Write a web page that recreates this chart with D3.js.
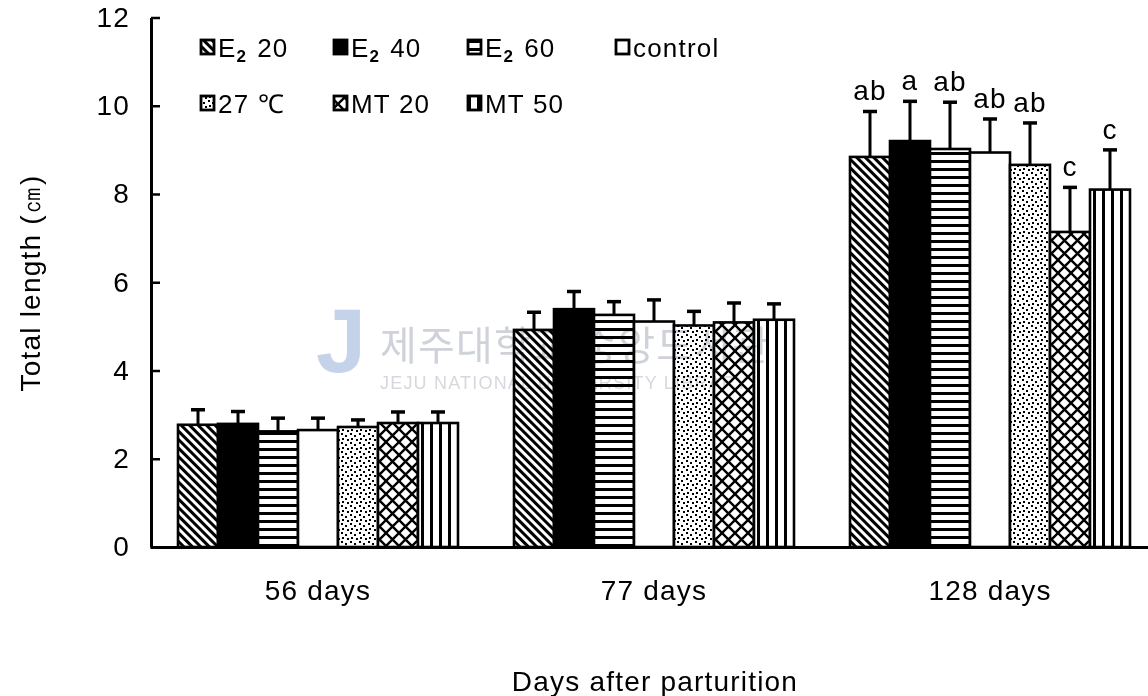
<!DOCTYPE html>
<html>
<head>
<meta charset="utf-8">
<script src="https://cdn.jsdelivr.net/npm/d3@7"></script>
<style>
  body { margin: 0; background: #fff; }
  svg text { font-family: "Liberation Sans", Arial, sans-serif; letter-spacing: 1.2px; }
</style>
</head>
<body>
<svg id="chart" width="1148" height="696"></svg>
<script>
// data
const groups = ["56 days", "77 days", "128 days"];
const treatments = ["E2 20", "E2 40", "E2 60", "control", "27 ℃", "MT 20", "MT 50"];
const mean56 = [2.77, 2.79, 2.62, 2.65, 2.72, 2.81, 2.81];
const sd56 = [0.34, 0.28, 0.30, 0.27, 0.16, 0.25, 0.25];
const mean77 = [4.92, 5.39, 5.26, 5.11, 5.02, 5.09, 5.15];
const sd77 = [0.40, 0.40, 0.30, 0.49, 0.32, 0.44, 0.36];
const mean128 = [8.84, 9.20, 9.02, 8.94, 8.66, 7.14, 8.10];
const sd128 = [1.03, 0.90, 1.06, 0.76, 0.95, 1.01, 0.90];
const letters128 = ["ab", "a", "ab", "ab", "ab", "c", "c"];
const yTicks = [0, 2, 4, 6, 8, 10, 12];

const means = [mean56, mean77, mean128];
const sds = [sd56, sd77, sd128];
const letters = [null, null, letters128];

const svg = d3.select("#chart");

const x0 = d3.scaleBand().domain(groups).range([150, 1158]).paddingInner(1 / 6).paddingOuter(1 / 12);
const x1 = d3.scaleBand().domain(treatments).range([0, x0.bandwidth()]);
const y = d3.scaleLinear().domain([0, 12]).range([547, 17.5]);

// fill patterns, one per treatment
const defs = svg.append("defs");
function makePattern(id, w, h, tf) {
  const p = defs.append("pattern").attr("id", id)
    .attr("patternUnits", "userSpaceOnUse")
    .attr("width", w).attr("height", h);
  if (tf) p.attr("patternTransform", tf);
  p.append("rect").attr("width", w).attr("height", h).attr("fill", "#fff");
  return p;
}
makePattern("p0", 6, 6, "rotate(-45)")
  .append("rect").attr("width", 3).attr("height", 6).attr("fill", "#000");
makePattern("p2", 8, 8)
  .append("rect").attr("width", 8).attr("height", 3).attr("fill", "#000");
const dots = makePattern("p4", 9, 9);
[[1, 1], [5, 3], [2, 6], [7, 7]].forEach(d => {
  dots.append("rect").attr("x", d[0]).attr("y", d[1]).attr("width", 2).attr("height", 2).attr("fill", "#000");
});
makePattern("p5", 13, 13)
  .append("path").attr("d", "M0,0L13,13M13,0L0,13").attr("stroke", "#000").attr("stroke-width", 2.4);
makePattern("p6", 9, 9)
  .append("rect").attr("width", 3).attr("height", 9).attr("fill", "#000");

const fills = ["url(#p0)", "#000", "url(#p2)", "#fff", "url(#p4)", "url(#p5)", "url(#p6)"];

// bars
groups.forEach((g, gi) => {
  const grp = svg.append("g").attr("transform", "translate(" + x0(g) + ",0)");
  const rows = treatments.map((t, i) => ({ t: t, i: i, v: means[gi][i], sd: sds[gi][i], lab: letters[gi] ? letters[gi][i] : null }));

  grp.selectAll("rect.bar")
    .data(rows)
    .enter()
    .append("rect")
    .attr("class", "bar")
    .attr("x", d => x1(d.t))
    .attr("y", d => y(d.v))
    .attr("width", x1.bandwidth())
    .attr("height", d => y(0) - y(d.v))
    .attr("fill", d => fills[d.i])
    .attr("stroke", "#000")
    .attr("stroke-width", 2.6);

  const eb = grp.selectAll("g.err").data(rows).enter().append("g").attr("class", "err");
  eb.append("line")
    .attr("x1", d => x1(d.t) + x1.bandwidth() / 2)
    .attr("x2", d => x1(d.t) + x1.bandwidth() / 2)
    .attr("y1", d => y(d.v))
    .attr("y2", d => y(d.v + d.sd))
    .attr("stroke", "#000").attr("stroke-width", 3);
  eb.append("line")
    .attr("x1", d => x1(d.t) + x1.bandwidth() / 2 - 7)
    .attr("x2", d => x1(d.t) + x1.bandwidth() / 2 + 7)
    .attr("y1", d => y(d.v + d.sd))
    .attr("y2", d => y(d.v + d.sd))
    .attr("stroke", "#000").attr("stroke-width", 3.5);

  grp.selectAll("text.sig")
    .data(rows.filter(d => d.lab))
    .enter()
    .append("text")
    .attr("class", "sig")
    .attr("x", d => x1(d.t) + x1.bandwidth() / 2)
    .attr("y", d => y(d.v + d.sd) - 11)
    .attr("text-anchor", "middle")
    .style("font-size", "28px")
    .text(d => d.lab);
});

// faint library watermark
const wm = svg.append("g").style("mix-blend-mode", "multiply");
wm.append("text").attr("x", 316).attr("y", 372)
  .style("font-size", "90px").style("font-weight", "bold").style("fill", "#c4d3ea").text("J");
wm.append("text").attr("x", 380).attr("y", 360)
  .style("font-family", "'Noto Sans CJK KR'").style("font-size", "40px").style("fill", "#cfd2d9")
  .text("제주대학교 중앙도서관");
wm.append("text").attr("x", 380).attr("y", 389)
  .style("font-size", "18px").style("fill", "#d6d8de")
  .text("JEJU NATIONAL UNIVERSITY LIBRARY");

// axes
const yAxis = svg.append("g")
  .attr("transform", "translate(151,0)")
  .call(d3.axisLeft(y).tickValues(yTicks).tickSizeInner(-9).tickSizeOuter(0).tickPadding(21));
yAxis.select(".domain").attr("stroke-width", 3);
yAxis.selectAll(".tick line").attr("stroke-width", 2.5);
yAxis.selectAll(".tick text").style("font-size", "28px").attr("font-family", null);

const xAxis = svg.append("g")
  .attr("transform", "translate(0,547)")
  .call(d3.axisBottom(x0).tickSize(0).tickPadding(33));
xAxis.select(".domain").attr("stroke-width", 3);
xAxis.selectAll(".tick text").style("font-size", "28px").attr("font-family", null);

svg.append("text")
  .attr("transform", "translate(40,283) rotate(-90)")
  .attr("text-anchor", "middle")
  .style("font-size", "28px")
  .text("Total length (㎝)");

svg.append("text")
  .attr("x", 655).attr("y", 691)
  .attr("text-anchor", "middle")
  .style("font-size", "28px")
  .text("Days after parturition");

// legend
const legCols = [201, 334, 468, 616];
const leg = svg.append("g");
treatments.forEach((t, i) => {
  const lx = legCols[i < 4 ? i : i - 4];
  const ly = i < 4 ? 40 : 96;
  leg.append("rect")
    .attr("x", lx).attr("y", ly).attr("width", 13).attr("height", 14)
    .attr("fill", fills[i]).attr("stroke", "#000").attr("stroke-width", 2.8);
  const tx = leg.append("text").attr("x", lx + 17).attr("y", ly + 17).style("font-size", "26px");
  if (t.startsWith("E2")) {
    tx.append("tspan").text("E");
    tx.append("tspan").attr("dy", 5).style("font-size", "17px").style("font-weight", "bold").text("2");
    tx.append("tspan").attr("dy", -5).attr("dx", 10).text(t.slice(3));
  } else {
    tx.text(t);
  }
});
</script>
</body>
</html>
